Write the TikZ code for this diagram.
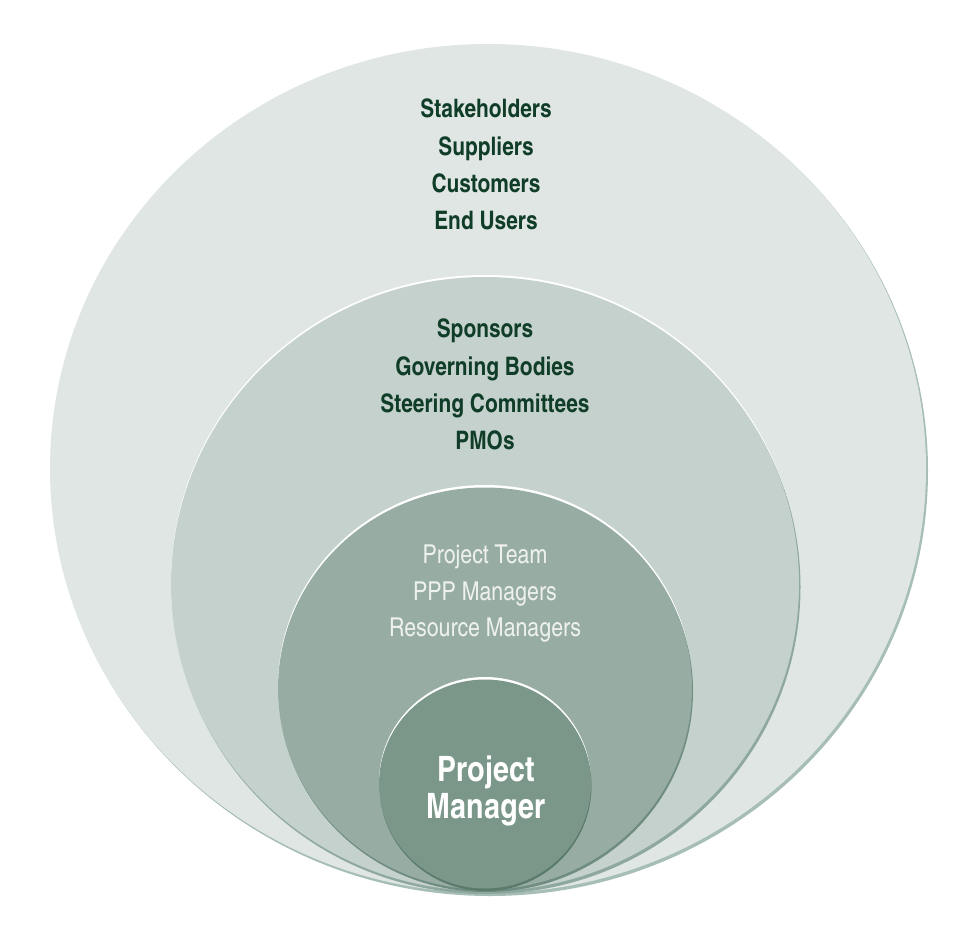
\documentclass[tikz,border=0pt]{standalone}
\usepackage{fontspec}
\newfontfamily\cn{texgyreheroscn}[Extension=.otf, UprightFont=*-regular, BoldFont=*-bold]
\definecolor{c1}{HTML}{DFE6E4}
\definecolor{c1s}{HTML}{A7BEB6}
\definecolor{c2}{HTML}{C5D1CD}
\definecolor{c2s}{HTML}{8FA89F}
\definecolor{c3}{HTML}{97ADA4}
\definecolor{c3s}{HTML}{6F8C80}
\definecolor{c4}{HTML}{7A978A}
\definecolor{c4s}{HTML}{5A7B6C}
\definecolor{darktxt}{HTML}{103D28}
\definecolor{lighttxt}{HTML}{EEF1EE}
\tikzset{
  darkline/.style={font=\cn\bfseries\fontsize{25.5}{28}\selectfont, text=darktxt, anchor=base, inner sep=0pt},
  lightline/.style={font=\cn\fontsize{26}{29}\selectfont, text=lighttxt, anchor=base, inner sep=0pt},
  pmline/.style={font=\cn\bfseries\fontsize{35}{38}\selectfont, text=white, anchor=base, inner sep=0pt}
}
\begin{document}
\begin{tikzpicture}[x=1pt,y=-1pt]
\useasboundingbox (0,0) rectangle (966,930);
% outer
\fill[c1s] (490,471) ellipse [x radius=438pt, y radius=425pt];
\fill[c1] (488,468.5) ellipse [x radius=438pt, y radius=424.5pt];
% second
\fill[white] (485,582) ellipse [x radius=314pt, y radius=307pt];
\fill[c2s] (486.5,587) ellipse [x radius=314pt, y radius=307pt];
\fill[c2] (485,584) ellipse [x radius=314pt, y radius=307pt];
% third
\fill[white] (485,686) ellipse [x radius=207pt, y radius=201pt];
\fill[c3s] (486,691) ellipse [x radius=207pt, y radius=201pt];
\fill[c3] (485,688.5) ellipse [x radius=207pt, y radius=201pt];
% inner
\fill[white] (485,782) ellipse [x radius=106pt, y radius=105pt];
\fill[c4s] (485.5,786) ellipse [x radius=106pt, y radius=105pt];
\fill[c4] (485,784) ellipse [x radius=106pt, y radius=104.5pt];
% texts
\node[darkline] (t1) at (486,117.3) {Stakeholders};
\node[darkline] (t2) at (486,155) {Suppliers};
\node[darkline] (t3) at (486,192.3) {Customers};
\node[darkline] (t4) at (486,229) {End Users};
\node[darkline] (s1) at (485,337.3) {Sponsors};
\node[darkline] (s2) at (485,375) {Governing Bodies};
\node[darkline] (s3) at (485,412.3) {Steering Committees};
\node[darkline] (s4) at (485,449) {PMOs};
\node[lightline] (p1) at (485,563.3) {Project Team};
\node[lightline] (p2) at (485,600) {PPP Managers};
\node[lightline] (p3) at (485,636.7) {Resource Managers};
\node[pmline] (m1) at (486,781) {Project};
\node[pmline] (m2) at (486,818.5) {Manager};
\end{tikzpicture}
\end{document}
